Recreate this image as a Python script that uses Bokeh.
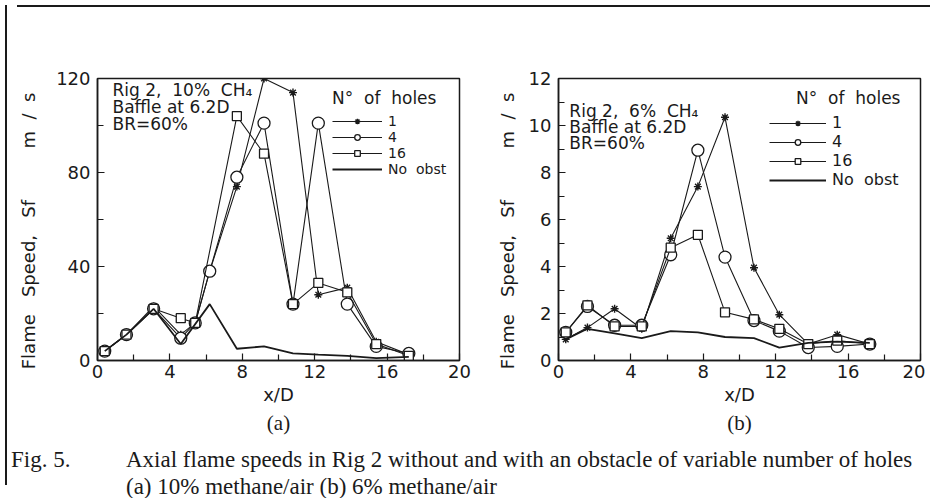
from bokeh.plotting import figure
from bokeh.models import FixedTicker, Legend, LegendItem, Label, Title, Div, Range1d
from bokeh.layouts import row, column
from bokeh.embed import file_html
from bokeh.resources import INLINE

# ---------------- data ----------------
# (a) Rig 2, 10% CH4
x_a = [0.4, 1.6, 3.1, 4.6, 5.4, 6.2, 7.7, 9.2, 10.8, 12.2, 13.8, 15.4, 17.2]
a_holes1 = [4, 11, 23, 11, 16, 38, 74, 120, 114, 28, 31, 8, 2.5]
a_holes4 = [4, 11, 22, 9.5, 16, 38, 78, 101, 24, 101, 24, 6, 3]
x_a16 = [0.4, 1.6, 3.1, 4.6, 5.4, 7.7, 9.2, 10.8, 12.2, 13.8, 15.4, 17.2]
a_holes16 = [4, 11, 22, 18, 16, 104, 88, 24, 33, 29, 7, 2]
x_a0 = [0.4, 1.6, 3.1, 4.6, 6.2, 7.7, 9.2, 10.8, 12.2, 13.8, 15.4, 17.2]
a_noobst = [4, 11, 22, 7, 24, 5, 6, 3, 2.5, 2, 1, 1.5]

# (b) Rig 2, 6% CH4
x_b = [0.4, 1.6, 3.1, 4.6, 6.2, 7.7, 9.2, 10.8, 12.2, 13.8, 15.4, 17.2]
b_holes1 = [0.9, 1.4, 2.2, 1.35, 5.2, 7.4, 10.35, 3.95, 1.95, 0.7, 1.1, 0.7]
b_holes4 = [1.2, 2.3, 1.5, 1.5, 4.5, 8.95, 4.4, 1.7, 1.25, 0.55, 0.6, 0.7]
b_holes16 = [1.2, 2.35, 1.45, 1.45, 4.8, 5.35, 2.05, 1.75, 1.35, 0.7, 0.85, 0.7]
b_noobst = [0.9, 1.35, 1.15, 0.95, 1.25, 1.2, 1.0, 0.95, 0.55, 0.75, 0.8, 0.75]

NB = "\u00a0"
series_labels = ["1", "4", "16", "No" + NB + NB + "obst"]
x_ticks = [0, 4, 8, 12, 16, 20]
x_minor = [2, 6, 10, 14, 18]
ya_ticks = [0, 40, 80, 120]
ya_minor = [20, 60, 100]
yb_ticks = [0, 2, 4, 6, 8, 10, 12]
yb_minor = [1, 3, 5, 7, 9, 11]

notes_a = ["Rig 2," + NB + " 10%" + NB + " CH\u2084", "Baffle at 6.2D", "BR=60%"]
notes_b = ["Rig 2," + NB + " 6%" + NB + " CH\u2084", "Baffle at 6.2D", "BR=60%"]
y_label = ("Flame" + NB * 2 + " Speed," + NB * 2 + " Sf" + NB * 8 + " m" + NB * 2 + "/" + NB * 2 + "s"
           + NB * 4)
x_label = "x/D"
legend_title_a = "N\u00b0" + NB + " of" + NB + " holes"
legend_title_b = NB * 5 + "N\u00b0" + NB + " of" + NB + " holes"
caption_1 = "Axial flame speeds in Rig 2 without and with an obstacle of variable number of holes"
caption_2 = "(a) 10% methane/air (b) 6% methane/air"

INK = "#1a1a1a"
SANS = "DejaVu Sans"
SERIF = "Liberation Serif"


def panel(curves, ymax, yticks, yminor, notes, note_pos, leg_loc, leg_title, leg_font, leg_glyph_w,
          tag, bl, br, ylab_standoff):
    p = figure(frame_width=362, frame_height=282,
               x_range=Range1d(0, 20), y_range=Range1d(0, ymax),
               output_backend="svg", toolbar_location=None,
               min_border_left=bl, min_border_right=br,
               min_border_top=66, min_border_bottom=77,
               background_fill_color="white", border_fill_color="white",
               outline_line_color=INK, outline_line_width=1.5)
    p.grid.visible = False

    items = []
    (x1, y1), (x4, y4), (x16, y16), (x0, y0) = curves
    r = p.line(x1, y1, line_color=INK, line_width=1.1)
    s = p.scatter(x1, y1, marker="asterisk", size=8, line_color=INK, line_width=1.4)
    items.append(LegendItem(label=series_labels[0], renderers=[r, s]))
    r = p.line(x4, y4, line_color=INK, line_width=1.1)
    s = p.scatter(x4, y4, marker="circle", size=12, line_color=INK, fill_color="white", line_width=1.3)
    items.append(LegendItem(label=series_labels[1], renderers=[r, s]))
    r = p.line(x16, y16, line_color=INK, line_width=1.1)
    s = p.scatter(x16, y16, marker="square", size=9, line_color=INK, fill_color="white", line_width=1.3)
    items.append(LegendItem(label=series_labels[2], renderers=[r, s]))
    r = p.line(x0, y0, line_color=INK, line_width=1.8)
    items.append(LegendItem(label=series_labels[3], renderers=[r]))

    leg = Legend(items=items, location=leg_loc, title=leg_title,
                 title_text_font=SANS, title_text_font_size="17px", title_text_font_style="normal",
                 title_text_color=INK, title_standoff=5,
                 label_text_font=SANS, label_text_font_size=leg_font, label_text_color=INK,
                 glyph_width=leg_glyph_w, glyph_height=14, label_height=14, spacing=0,
                 label_standoff=6, padding=3, margin=0,
                 background_fill_alpha=0, border_line_alpha=0)
    p.add_layout(leg)

    (nx, ny0, ndy) = note_pos
    for i, t in enumerate(notes):
        p.add_layout(Label(x=nx, y=ny0 - i * ndy, text=t, text_font=SANS, text_font_size="17px",
                           text_baseline="middle", text_color=INK))

    p.xaxis.ticker = FixedTicker(ticks=x_ticks, minor_ticks=x_minor)
    p.yaxis.ticker = FixedTicker(ticks=yticks, minor_ticks=yminor)
    p.xaxis.axis_label = x_label
    p.yaxis.axis_label = y_label
    for ax in (p.xaxis[0], p.yaxis[0]):
        ax.axis_line_color = INK
        ax.axis_line_width = 1.5
        ax.major_tick_in = 7
        ax.major_tick_out = 0
        ax.minor_tick_in = 6
        ax.minor_tick_out = 0
        ax.major_tick_line_color = INK
        ax.minor_tick_line_color = INK
        ax.major_tick_line_width = 1.2
        ax.minor_tick_line_width = 1.2
        ax.major_label_text_font = SANS
        ax.major_label_text_font_size = "18px"
        ax.major_label_text_color = INK
        ax.axis_label_text_font = SANS
        ax.axis_label_text_font_size = "18px"
        ax.axis_label_text_font_style = "normal"
        ax.axis_label_text_color = INK
    p.xaxis.major_label_standoff = 4
    p.xaxis.axis_label_standoff = 3
    p.yaxis.major_label_standoff = 7
    p.yaxis.axis_label_standoff = ylab_standoff

    p.add_layout(Title(text=tag, align="center", text_font=SERIF, text_font_size="21px",
                       text_font_style="normal", text_color=INK, standoff=2), "below")
    return p


pa = panel([(x_a, a_holes1), (x_a, a_holes4), (x_a16, a_holes16), (x_a0, a_noobst)],
           120, ya_ticks, ya_minor, notes_a, (0.83, 115, 7.2), (232, 180), legend_title_a, "14px", 50,
           "(a)", 85, 13, 14)
pb = panel([(x_b, b_holes1), (x_b, b_holes4), (x_b, b_holes16), (x_b, b_noobst)],
           12, yb_ticks, yb_minor, notes_b, (0.6, 10.6, 0.68), (208, 168), legend_title_b, "16px", 57,
           "(b)", 86, 5, 8)

cap = Div(text=('<div style="font-family:\'Liberation Serif\',serif;font-size:23px;line-height:27px;'
                'color:#1a1a1a;white-space:nowrap;padding:4px 0 0 0;margin-left:-6px;">'
                '<span style="display:inline-block;width:115px">Fig. 5.</span>' + caption_1 + '<br>'
                '<span style="display:inline-block;width:115px"></span>' + caption_2 + '</div>'),
          width=913, height=58)

top_rule = Div(text="", width=913, height=2, styles={"background-color": INK})
left_rule = Div(text="", width=2, height=480, styles={"background-color": INK})

layout = row(left_rule, column(top_rule, row(pa, pb), cap))

open("out.html", "w").write(file_html(layout, INLINE))
